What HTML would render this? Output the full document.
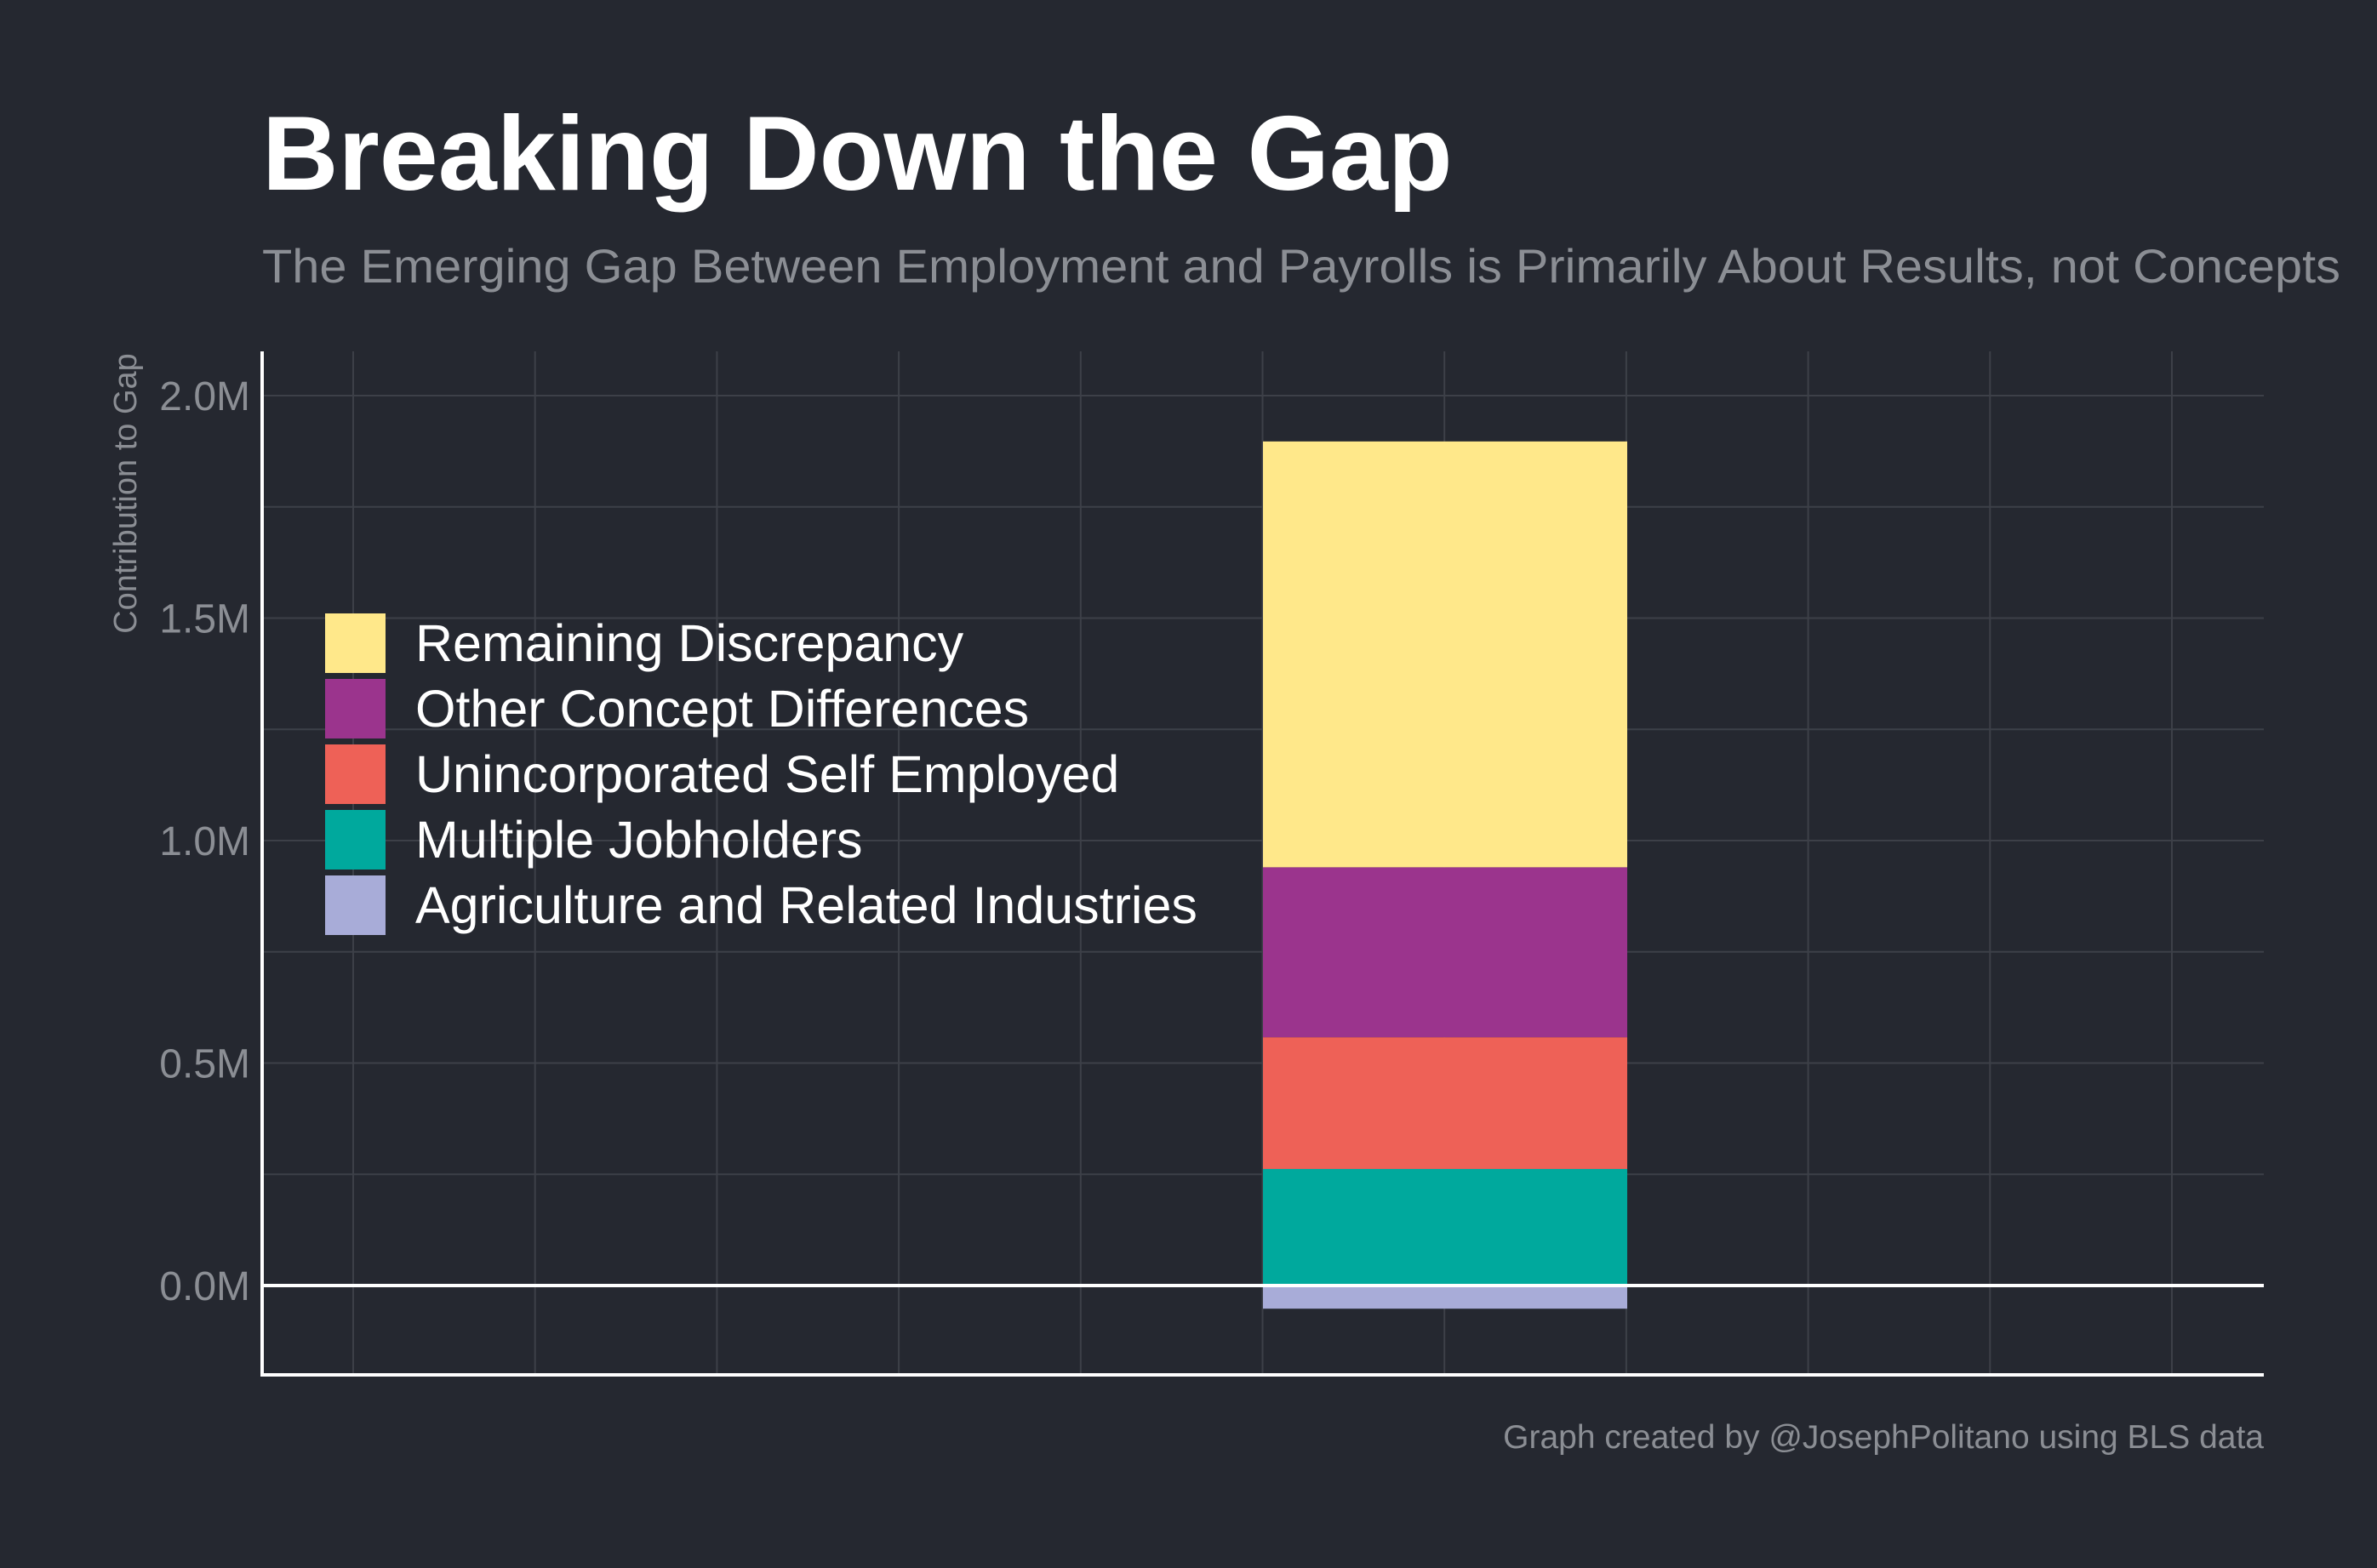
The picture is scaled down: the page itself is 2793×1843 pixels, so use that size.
<!DOCTYPE html>
<html><head><meta charset="utf-8"><style>
html,body{margin:0;padding:0;background:#252830;}
svg{display:block;font-family:"Liberation Sans",Arial,sans-serif;}
</style></head><body>
<svg id="chart" width="2793" height="1843" viewBox="0 0 2793 1843">
<rect width="2793" height="1843" fill="#252830"/>
<text x="308" y="223" font-size="124" font-weight="bold" fill="#ffffff">Breaking Down the Gap</text>
<text x="308" y="332" font-size="56" fill="#8b8e94" textLength="2442" lengthAdjust="spacingAndGlyphs">The Emerging Gap Between Employment and Payrolls is Primarily About Results, not Concepts</text>
<g id="grid"></g>
<g id="bars"></g>
<g id="axes"></g>
<text transform="translate(160,580) rotate(-90)" text-anchor="middle" font-size="38" fill="#8b8e94">Contribution to Gap</text>
<g id="legend"></g>
<text x="2660" y="1702" text-anchor="end" font-size="39" fill="#8b8e94">Graph created by @JosephPolitano using BLS data</text>
</svg>
<script>
const series = ["Agriculture and Related Industries","Multiple Jobholders","Unincorporated Self Employed","Other Concept Differences","Remaining Discrepancy"];
const values = [-0.052, 0.262, 0.296, 0.382, 0.957];
const colors = ["#a8acd8","#00a99d","#ee6157","#9b348d","#ffe88a"];
const yTicks = [0, 0.5, 1.0, 1.5, 2.0];
const yTickLabels = ["0.0M","0.5M","1.0M","1.5M","2.0M"];

const NS="http://www.w3.org/2000/svg";
const L=308,R=2660,T=413,B=1616;
const y0=1511, perM=(1511-465)/2;
function yS(v){return y0 - v*perM;}
function mk(tag,attrs,parent){const e=document.createElementNS(NS,tag);for(const k in attrs)e.setAttribute(k,attrs[k]);parent.appendChild(e);return e;}
const grid=document.getElementById('grid');
for(let i=0;i<11;i++){
  const x=415+i*213.7;
  const l=mk('line',{x1:x,x2:x,y1:T,y2:B,stroke:'#3d4048','stroke-width':2},grid);
  
  
}
for(let v=0;v<=2.0001;v+=0.25){
  const l=mk('line',{x1:L,x2:R,y1:yS(v),y2:yS(v),stroke:'#3d4048','stroke-width':2},grid);
  
  
}
const bars=document.getElementById('bars');
let pos=0,neg=0;
values.forEach((v,i)=>{
  let a,b;
  if(v>=0){a=pos;b=pos+v;pos=b;}else{a=neg;b=neg+v;neg=b;}
  const r=mk('rect',{x:1484,width:428,y:Math.min(yS(a),yS(b)),height:Math.abs(yS(a)-yS(b)),fill:colors[i]},bars);
  
  
});
const axes=document.getElementById('axes');
let z=mk('line',{x1:L,x2:R,y1:yS(0),y2:yS(0),stroke:'#ffffff','stroke-width':4},axes);


let ya=mk('line',{x1:L,x2:L,y1:T,y2:B+2,stroke:'#ffffff','stroke-width':4},axes);


let xa=mk('line',{x1:L,x2:R,y1:B,y2:B,stroke:'#ffffff','stroke-width':4},axes);


yTicks.forEach((v,i)=>{
  const t=mk('text',{x:294,y:yS(v)+17,'text-anchor':'end','font-size':48,fill:'#8b8e94'},axes);
  t.textContent=yTickLabels[i];
  
  
});
const legend=document.getElementById('legend');
for(let k=0;k<series.length;k++){
  const i=series.length-1-k;
  const yt=721+k*77;
  const s=mk('rect',{x:382,y:yt,width:71,height:70,fill:colors[i]},legend);
  
  
  const t=mk('text',{x:488,y:yt+56,'font-size':61,fill:'#ffffff'},legend);
  t.textContent=series[i];
  
  
}
</script>
</body></html>
